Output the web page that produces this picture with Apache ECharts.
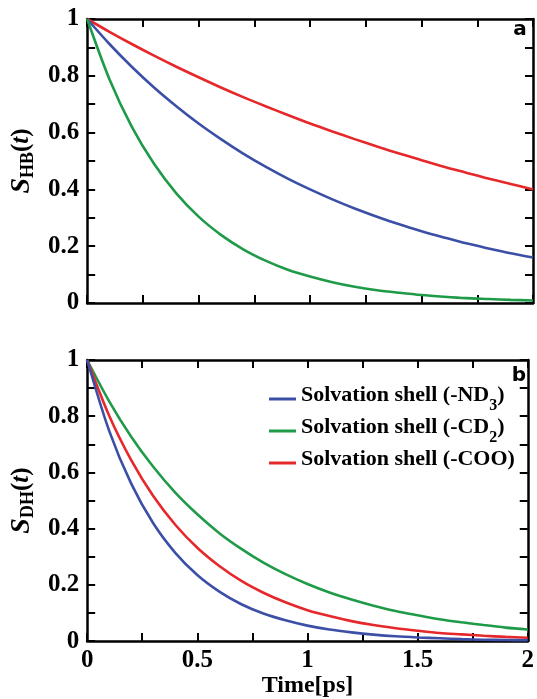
<!DOCTYPE html>
<html><head><meta charset="utf-8">
<script src="https://cdn.jsdelivr.net/npm/echarts@6/dist/echarts.min.js"></script>
<style>html,body{margin:0;padding:0;background:#fff}#c{width:537px;height:699px}</style>
</head><body><div id="c"></div>
<script>
// time axis (ps)
const time = [0,0.1,0.2,0.3,0.4,0.5,0.6,0.7,0.8,0.9,1.0,1.1,1.2,1.3,1.4,1.5,1.6,1.7,1.8,1.9,2.0];
// panel a: S_HB(t)
const hbND3 = [1.000,0.912,0.832,0.759,0.693,0.632,0.577,0.526,0.480,0.438,0.400,0.365,0.333,0.304,0.277,0.253,0.231,0.210,0.192,0.175,0.160];
const hbCD2 = [1.000,0.788,0.621,0.490,0.386,0.304,0.240,0.189,0.149,0.117,0.093,0.073,0.057,0.045,0.036,0.028,0.022,0.017,0.014,0.011,0.009];
const hbCOO = [1.000,0.955,0.912,0.871,0.832,0.795,0.759,0.725,0.693,0.662,0.632,0.604,0.577,0.551,0.526,0.503,0.480,0.459,0.438,0.419,0.400];
// panel b: S_DH(t)
const dhND3 = [1.000,0.748,0.560,0.419,0.314,0.235,0.176,0.131,0.098,0.074,0.055,0.041,0.031,0.023,0.017,0.013,0.010,0.007,0.005,0.004,0.003];
const dhCD2 = [1.000,0.853,0.727,0.620,0.528,0.451,0.384,0.328,0.279,0.238,0.203,0.173,0.148,0.126,0.107,0.092,0.078,0.067,0.057,0.048,0.041];
const dhCOO = [1.000,0.802,0.644,0.516,0.414,0.332,0.267,0.214,0.172,0.138,0.110,0.089,0.071,0.057,0.046,0.037,0.029,0.024,0.019,0.015,0.012];
const seriesNames = ['Solvation shell (-ND3)','Solvation shell (-CD2)','Solvation shell (-COO)'];
const xTicks = [0,0.5,1,1.5,2];
const yTicks = [0,0.2,0.4,0.6,0.8,1];

const colors = ['#3c4fa6','#1f9a48','#e6282b'];
const serif = 'Liberation Serif';
const pairs = (v) => time.map((t,i)=>[t,v[i]]);

function xAxis(grid, pos, labels, name){
  return {
    type:'value', gridIndex:grid, position:pos, min:0, max:2, interval:0.5,
    axisLine:{show:true,onZero:false,lineStyle:{color:'#000',width:2.5}},
    axisTick:{show:true,inside:true,length:8,lineStyle:{color:'#000',width:2}},
    minorTick:{show:true,splitNumber:2,length:8,lineStyle:{color:'#000',width:2}},
    splitLine:{show:false}, minorSplitLine:{show:false},
    axisLabel:{show:labels,margin:7,color:'#000',fontFamily:serif,fontWeight:'bold',fontSize:25,
      formatter:(v)=> xTicks.indexOf(v)>=0 ? String(v) : ''},
    name:name||'', nameLocation:'middle', nameGap:26,
    nameTextStyle:{color:'#000',fontFamily:serif,fontWeight:'bold',fontSize:24}
  };
}
function yAxis(grid, pos, labels, sub){
  return {
    type:'value', gridIndex:grid, position:pos, min:0, max:1, interval:0.2,
    axisLine:{show:true,onZero:false,lineStyle:{color:'#000',width:2.5}},
    axisTick:{show:true,inside:true,length:8,lineStyle:{color:'#000',width:2}},
    minorTick:{show:true,splitNumber:2,length:8,lineStyle:{color:'#000',width:2}},
    splitLine:{show:false}, minorSplitLine:{show:false},
    axisLabel:{show:labels,margin:8,color:'#000',fontFamily:serif,fontWeight:'bold',fontSize:25,
      formatter:(v)=> yTicks.indexOf(Math.round(v*10)/10)>=0 ? String(Math.round(v*10)/10) : ''},
    name: sub ? '{s|S}{b|'+sub+'}{p|(}{t|t}{p|)}' : '',
    nameLocation:'middle', nameRotate:90, nameGap:50,
    nameTextStyle:{color:'#000',rich:{
      s:{fontFamily:serif,fontStyle:'italic',fontWeight:'bold',fontSize:28,color:'#000',lineHeight:30},
      b:{fontFamily:serif,fontWeight:'bold',fontSize:18,color:'#000',verticalAlign:'bottom',lineHeight:30,padding:[9,0,0,0]},
      p:{fontFamily:serif,fontWeight:'bold',fontSize:25,color:'#000',lineHeight:30},
      t:{fontFamily:serif,fontStyle:'italic',fontWeight:'bold',fontSize:25,color:'#000',lineHeight:30}
    }}
  };
}
function line(name, grid, data, ci){
  return {type:'line', name:name, xAxisIndex:grid*2, yAxisIndex:grid*2, data:pairs(data),
    smooth:0.3, showSymbol:false, symbol:'none', lineStyle:{width:2.6,color:colors[ci]}, itemStyle:{color:colors[ci]},
    animation:false, z:2};
}
const richLeg = {
  sp:{fontFamily:serif,fontSize:22,lineHeight:30,verticalAlign:'top'},
  n:{fontFamily:serif,fontWeight:'bold',fontSize:22,color:'#000',lineHeight:22,verticalAlign:'top'},
  sub:{fontFamily:serif,fontWeight:'bold',fontSize:16,color:'#000',lineHeight:22,verticalAlign:'bottom'}
};
const legendText = {
  'Solvation shell (-ND3)':'{sp|\u200b}{n|Solvation shell (-ND}{sub|3}{n|)}',
  'Solvation shell (-CD2)':'{sp|\u200b}{n|Solvation shell (-CD}{sub|2}{n|)}',
  'Solvation shell (-COO)':'{sp|\u200b}{n|Solvation shell (-COO)}'
};

const chart = echarts.init(document.getElementById('c'), null, {renderer:'canvas'});
chart.setOption({
  animation:false,
  backgroundColor:'#fff',
  grid:[
    {left:87,right:4,top:19,height:284,show:false},
    {left:87,right:4,top:360,height:283,show:false}
  ],
  xAxis:[ xAxis(0,'bottom',false), xAxis(0,'top',false), xAxis(1,'bottom',true,'Time[ps]'), xAxis(1,'top',false) ],
  yAxis:[ yAxis(0,'left',true,'HB'), yAxis(0,'right',false), yAxis(1,'left',true,'DH'), yAxis(1,'right',false) ],
  legend:{
    data:seriesNames, orient:'vertical', left:264, top:379, itemGap:2,
    icon:'rect', itemWidth:27, itemHeight:3,
    formatter:(n)=>legendText[n], textStyle:{rich:richLeg},
    selectedMode:false
  },
  graphic:[
    {type:'text', style:{x:520,y:30,text:'a',font:'bold 20px "DejaVu Sans"',fill:'#000',align:'center',verticalAlign:'middle'}},
    {type:'text', style:{x:519,y:376,text:'b',font:'bold 20px "DejaVu Sans"',fill:'#000',align:'center',verticalAlign:'middle'}}
  ],
  series:[
    line(seriesNames[2],0,hbCOO,2),
    line(seriesNames[0],0,hbND3,0),
    line(seriesNames[1],0,hbCD2,1),
    line(seriesNames[1],1,dhCD2,1),
    line(seriesNames[2],1,dhCOO,2),
    line(seriesNames[0],1,dhND3,0)
  ]
});
</script></body></html>
